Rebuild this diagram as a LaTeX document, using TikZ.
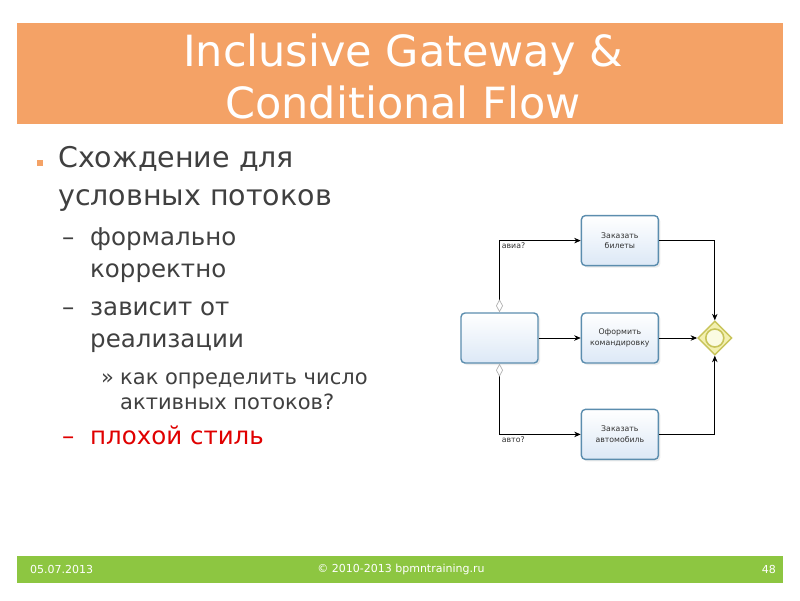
\documentclass[tikz,border=0pt]{standalone}
\usepackage{fontspec}
\setmainfont{DejaVu Sans}
\usepackage{tikz}
\usetikzlibrary{shapes.geometric, arrows.meta, positioning, calc, shadows}
\definecolor{headorange}{HTML}{F4A266}
\definecolor{footgreen}{HTML}{8DC641}
\definecolor{bodytext}{HTML}{404040}
\definecolor{badred}{HTML}{E00000}
\definecolor{taskblue}{HTML}{5B8DAE}
\definecolor{taskfill}{HTML}{DCE8F6}
\definecolor{boxtext}{HTML}{333333}
\definecolor{gwborder}{HTML}{C8C45A}
\definecolor{gwfill}{HTML}{F3F0B0}
\definecolor{gwinner}{HTML}{FBFBE2}
\tikzstyle{task} = [rectangle,
rounded corners=4pt,
minimum width=77pt,
minimum height=50pt,
draw=taskblue, line width=1.4pt,
top color=white, bottom color=taskfill,
text=boxtext, align=center,
font=\fontsize{7.8}{10.5}\selectfont,
drop shadow={opacity=0.15, shadow xshift=2pt, shadow yshift=-2pt}]
\tikzstyle{gateway} = [diamond,
minimum width=34pt,
minimum height=34pt,
inner sep=0pt,
draw=gwborder, fill=gwfill, line width=1.4pt]
\tikzstyle{flow} = [-{Stealth[length=6.5pt, width=5.5pt]}, line width=0.7pt]
\tikzstyle{condflow} = [{Diamond[length=13pt, width=7pt, color=gray!60, fill=white]}-{Stealth[length=6.5pt, width=5.5pt]},
line width=0.7pt]
\tikzstyle{flowlabel} = [inner sep=2pt, text=boxtext, font=\fontsize{7.8}{9}\selectfont]
\tikzstyle{lvlone} = [anchor=mid west, inner sep=0pt, text=bodytext, font=\fontsize{28.5}{32}\selectfont]
\tikzstyle{lvltwo} = [anchor=mid west, inner sep=0pt, text=bodytext, font=\fontsize{24.5}{28}\selectfont]
\tikzstyle{lvlthree} = [anchor=mid west, inner sep=0pt, text=bodytext, font=\fontsize{21}{24}\selectfont]
\tikzstyle{foottext} = [inner sep=0pt, text=white, font=\fontsize{11}{13}\selectfont]
\begin{document}
\begin{tikzpicture}[x=1pt, y=-1pt]
    \useasboundingbox[fill=white] (0,0) rectangle (800,600);
    % header and footer bands
    \node (head) [fill=headorange, minimum width=766pt, minimum height=101pt, inner sep=0pt] at (400,73) {};
    \node (title) [text=white, align=center, font=\fontsize{43}{52}\selectfont] at (403,76) {Inclusive Gateway \&\\Conditional Flow};
    \node (foot) [fill=footgreen, minimum width=766pt, minimum height=27pt, inner sep=0pt] at (400,569.5) {};
    \node (date) [foottext, anchor=west] at (30,569.5) {05.07.2013};
    \node (copy) [foottext] at (401,569.5) {© 2010-2013 bpmntraining.ru};
    \node (page) [foottext, anchor=east] at (776,569.5) {48};

    % bullet list
    \node (sq) [fill=headorange, minimum size=6pt, inner sep=0pt] at (40,163) {};
    \node (l1a) [lvlone] at (58,165) {Схождение для};
    \node (l1b) [lvlone] at (58,203) {условных потоков};
    \node (d1) [lvltwo] at (62,243) {–};
    \node (l2a) [lvltwo] at (90,243) {формально};
    \node (l2b) [lvltwo] at (90,275) {корректно};
    \node (d2) [lvltwo] at (62,313) {–};
    \node (l3a) [lvltwo] at (90,313) {зависит от};
    \node (l3b) [lvltwo] at (90,345) {реализации};
    \node (q1) [lvlthree] at (101,382) {»};
    \node (l4a) [lvlthree] at (120,382) {как определить число};
    \node (l4b) [lvlthree] at (120,407) {активных потоков?};
    \node (d3) [lvltwo, text=badred] at (62,442) {–};
    \node (l5) [lvltwo, text=badred] at (90,442) {плохой стиль};

    % process
    \node (start) [task] at (499.5,338) {};
    \node (trip) [task, right=42pt of start] {Оформить\\командировку};
    \node (tickets) [task, above=46pt of trip] {Заказать\\билеты};
    \node (car) [task, below=45pt of trip] {Заказать\\автомобиль};
    \node (gw) [gateway, right=38pt of trip] {};
    \node (gwring) [circle, minimum size=18pt, inner sep=0pt, draw=gwborder, fill=gwinner, line width=1.6pt] at (gw) {};

    \draw [condflow] (start.north) |- node (lblair) [flowlabel, pos=0.5, anchor=north west] {авиа?} (tickets.west);
    \draw [condflow] (start.south) |- node (lblcar) [flowlabel, pos=0.5, anchor=north west] {авто?} (car.west);
    \draw [flow] (start) -- (trip);
    \draw [flow] (trip) -- (gw);
    \draw [flow] (tickets) -| (gw);
    \draw [flow] (car) -| (gw);
\end{tikzpicture}
\end{document}
